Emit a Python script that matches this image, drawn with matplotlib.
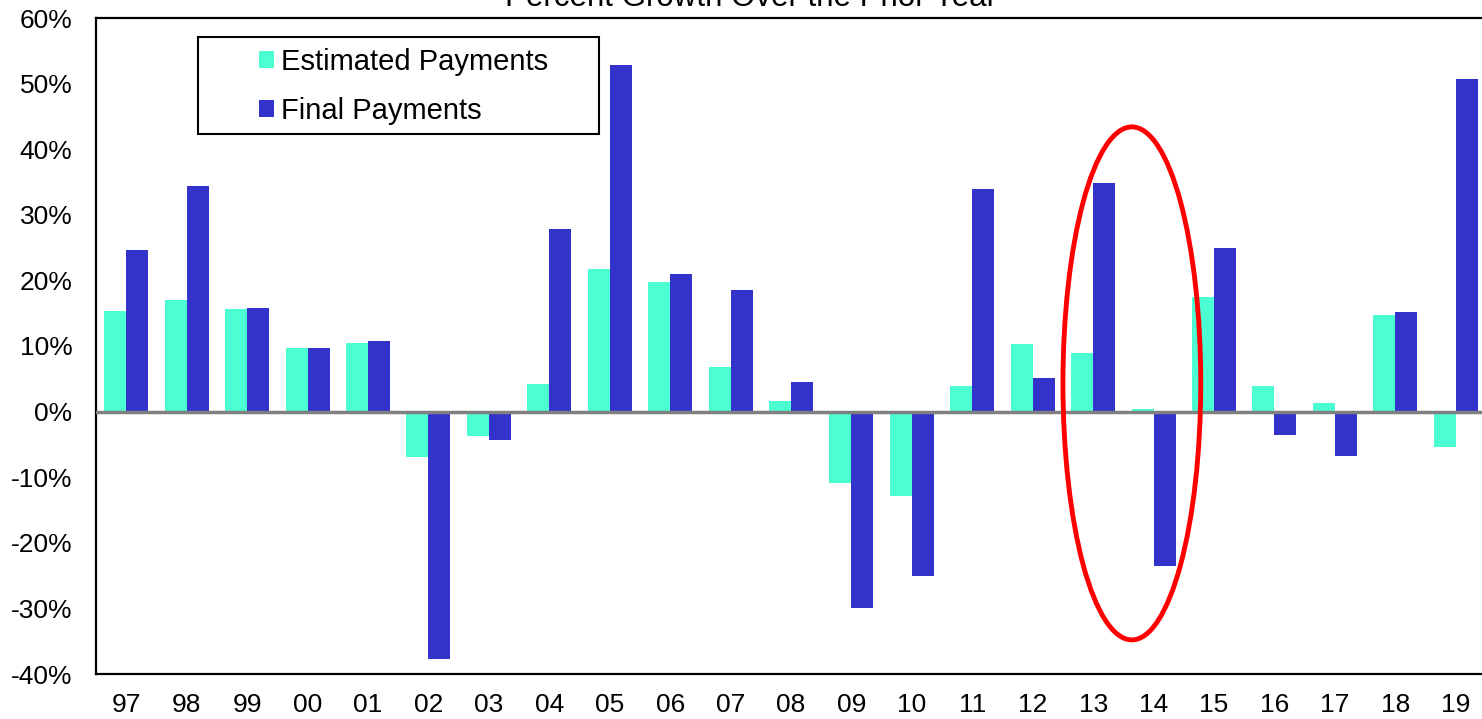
import numpy as np
import matplotlib.pyplot as plt
from matplotlib.patches import Ellipse, Rectangle

# Percent growth over prior year
years = ['97', '98', '99', '00', '01', '02', '03', '04', '05', '06', '07', '08',
         '09', '10', '11', '12', '13', '14', '15', '16', '17', '18', '19']
estimated = [15.3, 17.0, 15.6, 9.7, 10.5, -6.9, -3.7, 4.2, 21.7, 19.8, 6.8, 1.6,
             -10.9, -12.8, 3.9, 10.3, 8.9, 0.4, 17.5, 3.9, 1.3, 14.8, -5.4]
final = [24.6, 34.4, 15.8, 9.7, 10.8, -37.7, -4.3, 27.8, 52.8, 21.0, 18.5, 4.5,
         -29.9, -25.1, 33.9, 5.1, 34.8, -23.5, 24.9, -3.6, -6.8, 15.2, 50.7]

plt.rcParams['font.family'] = ['Liberation Sans', 'DejaVu Sans']

W, H = 1482, 719
fig = plt.figure(figsize=(W / 100, H / 100), dpi=100)
ax = fig.add_axes([96 / W, (H - 674) / H, (1486 - 96) / W, (674 - 18) / H])

x = np.arange(len(years))
bw = 0.364
ax.bar(x - bw / 2, estimated, bw, color='#4BFFD2', label='Estimated Payments', zorder=2)
ax.bar(x + bw / 2, final, bw, color='#3333CC', label='Final Payments', zorder=2)
ax.axhline(0, color='#808080', lw=2.5, zorder=3)

ax.set_xlim(-0.5, len(years) - 0.5)
ax.set_ylim(-40, 60)
ax.set_yticks(np.arange(-40, 61, 10))
ax.set_yticklabels([f'{v}%' for v in range(-40, 61, 10)])
ax.set_xticks(x)
ax.set_xticklabels(years)
ax.tick_params(axis='both', length=0, labelsize=19)
ax.tick_params(axis='y', pad=17)
ax.tick_params(axis='x', pad=14)
for s in ['left', 'bottom', 'top']:
    ax.spines[s].set_linewidth(1.6)
ax.spines['right'].set_visible(False)

# highlight 13-14
ell = Ellipse((16.64, 4.3), 2.28, 78.2, fill=False, edgecolor='#FF0000', lw=3.5, zorder=4)
ax.add_patch(ell)

# legend without frame, box drawn separately
leg = ax.legend(loc='upper left', bbox_to_anchor=((259 - 96) / 1390, (674 - 48) / 656),
                fontsize=21, frameon=False,
                handlelength=0.52, handleheight=0.52, handletextpad=0.22,
                borderpad=0, labelspacing=0.72, borderaxespad=0)
fig.patches.append(Rectangle((198 / W, 1 - 134 / H), (599 - 198) / W, (134 - 37) / H,
                             transform=fig.transFigure, fill=False,
                             edgecolor='black', lw=1.5, zorder=5))

fig.text(751 / W, 1 - 6 / H, 'Percent Growth Over the Prior Year', ha='center',
         va='baseline', fontsize=22.5)

fig.savefig('out.png', dpi=100)
